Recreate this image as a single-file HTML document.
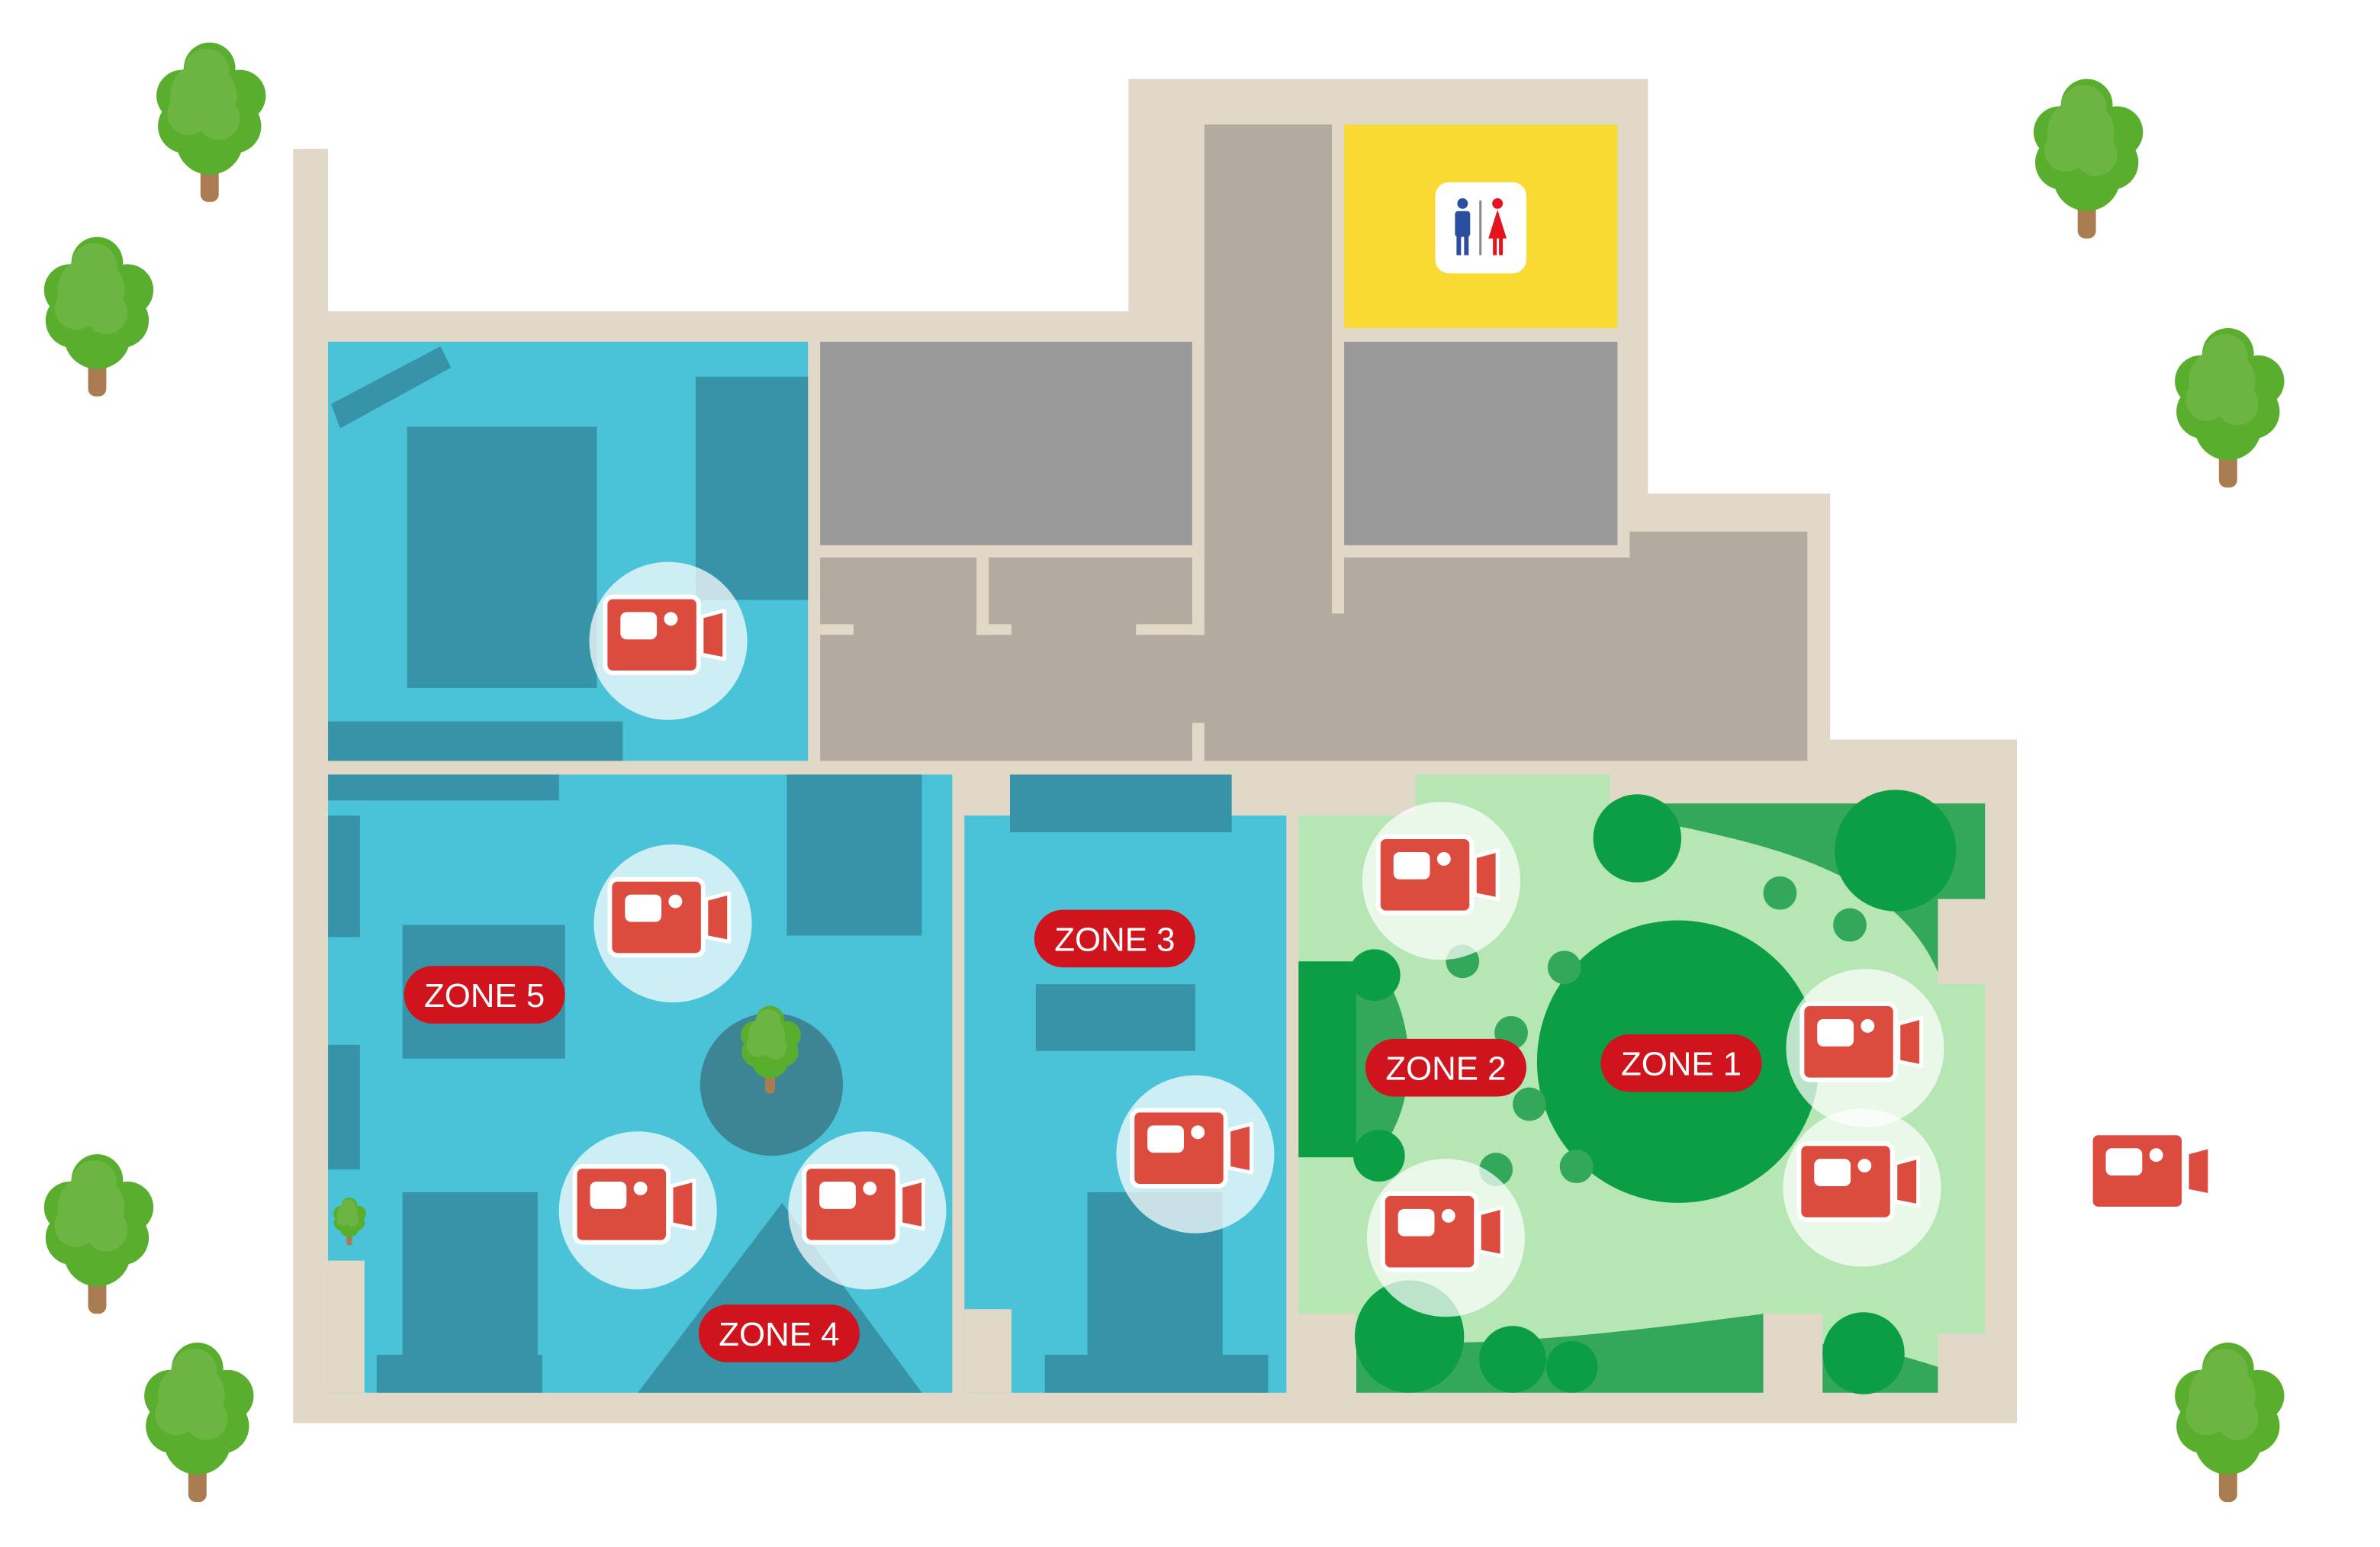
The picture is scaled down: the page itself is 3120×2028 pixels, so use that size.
<!DOCTYPE html>
<html><head><meta charset="utf-8"><style>
html,body{margin:0;padding:0;background:#fff;}
svg{display:block;}
text{font-family:"Liberation Sans",sans-serif;}
</style></head><body>
<svg width="3120" height="2028" viewBox="0 0 1560 1014" xmlns="http://www.w3.org/2000/svg">
<defs>
<g id="tree">
 <rect x="-6" y="-24" width="12" height="24" rx="5" fill="#a97c52"/>
 <g fill="#5aae2e">
  <circle cx="0" cy="-40" r="22"/><circle cx="16" cy="-50" r="18"/><circle cx="-16" cy="-50" r="18"/>
  <circle cx="20" cy="-70" r="17"/><circle cx="-18" cy="-70" r="17"/><circle cx="0" cy="-88" r="17"/><circle cx="0" cy="-62" r="24"/>
 </g>
 <g fill="#6db543">
  <circle cx="-4" cy="-70" r="22"/><circle cx="-14" cy="-58" r="14"/><circle cx="-2" cy="-86" r="15"/><circle cx="6" cy="-55" r="14"/>
 </g>
</g>
<g id="cam">
 <rect x="-41.5" y="-29" width="61.5" height="50" rx="5" fill="#dc4c3e" stroke="#fff" stroke-width="3"/>
 <polygon points="22,-16 37,-20 37,12 22,9" fill="#dc4c3e" stroke="#fff" stroke-width="2.5" stroke-linejoin="round"/>
 <rect x="-31.5" y="-19" width="24" height="18" rx="4" fill="#fff"/>
 <circle cx="1.7" cy="-14.5" r="4.5" fill="#fff"/>
</g>
<g id="halo"><circle r="52" fill="#fff" fill-opacity="0.72"/><use href="#cam"/></g>
</defs>
<g transform="scale(0.9955)">
<polygon points="193,98 216,98 216,205 743,205 743,52 1085,52 1085,325 1205,325 1205,487 1328,487 1328,937 193,937" fill="#e2d8c8"/>

<rect x="216" y="225" width="316" height="276" fill="#4ac3d8"/>
<polygon points="218,266 290,228 297,242 224,282" fill="#3794a8"/>
<rect x="268" y="281" width="125" height="172" fill="#3794a8"/>
<rect x="458" y="248" width="74" height="147" fill="#3794a8"/>
<rect x="216" y="475" width="194" height="26" fill="#3794a8"/>

<rect x="540" y="225" width="245" height="134" fill="#999999"/>
<rect x="885" y="225" width="180" height="134" fill="#999999"/>
<rect x="793" y="82" width="84" height="419" fill="#b3aba0"/>
<rect x="540" y="367" width="650" height="134" fill="#b3aba0"/>
<rect x="1073" y="350" width="117" height="20" fill="#b3aba0"/>
<rect x="785" y="225" width="8" height="193" fill="#e2d8c8"/>
<rect x="785" y="476" width="8" height="25" fill="#e2d8c8"/>
<rect x="877" y="82" width="8" height="322" fill="#e2d8c8"/>
<rect x="885" y="359" width="188" height="8" fill="#e2d8c8"/>
<rect x="540" y="359" width="245" height="8" fill="#e2d8c8"/>
<rect x="643" y="367" width="8" height="51" fill="#e2d8c8"/>
<rect x="540" y="411" width="22" height="7" fill="#e2d8c8"/>
<rect x="643" y="411" width="23" height="7" fill="#e2d8c8"/>
<rect x="748" y="411" width="45" height="7" fill="#e2d8c8"/>
<rect x="885" y="82" width="180" height="134" fill="#f8da33"/>
<rect x="945" y="120" width="60" height="60" rx="9" fill="#fff"/>
<circle cx="963" cy="134" r="3.5" fill="#2a4fa0"/>
<rect x="958" y="139" width="10" height="17" rx="2" fill="#2a4fa0"/>
<rect x="959" y="155" width="3" height="13" fill="#2a4fa0"/><rect x="964" y="155" width="3" height="13" fill="#2a4fa0"/>
<rect x="974" y="132" width="1.5" height="36" fill="#888"/>
<circle cx="986" cy="134" r="3.5" fill="#e3141d"/>
<polygon points="986,138 980,157 992,157" fill="#e3141d"/>
<rect x="983" y="155" width="2.5" height="13" fill="#e3141d"/><rect x="987" y="155" width="2.5" height="13" fill="#e3141d"/>

<rect x="216" y="510" width="411" height="407" fill="#4ac3d8"/>
<rect x="216" y="830" width="24" height="87" fill="#e2d8c8"/>
<rect x="216" y="510" width="152" height="17" fill="#3794a8"/>
<rect x="518" y="510" width="89" height="106" fill="#3794a8"/>
<rect x="216" y="537" width="21" height="80" fill="#3794a8"/>
<rect x="216" y="688" width="21" height="82" fill="#3794a8"/>
<rect x="265" y="609" width="107" height="88" fill="#3794a8"/>
<rect x="265" y="785" width="89" height="107" fill="#3794a8"/>
<rect x="248" y="892" width="109" height="25" fill="#3794a8"/>
<polygon points="420,917 515,792 607,917" fill="#3794a8"/>
<circle cx="508" cy="714" r="47" fill="#3d8595"/>
<use href="#tree" transform="translate(507,720) scale(0.55)"/>
<use href="#tree" transform="translate(230,820) scale(0.3)"/>

<rect x="635" y="537" width="212" height="380" fill="#4ac3d8"/>
<rect x="635" y="862" width="31" height="55" fill="#e2d8c8"/>
<rect x="665" y="510" width="146" height="38" fill="#3794a8"/>
<rect x="682" y="648" width="105" height="44" fill="#3794a8"/>
<rect x="716" y="785" width="89" height="107" fill="#3794a8"/>
<rect x="688" y="892" width="147" height="25" fill="#3794a8"/>

<rect x="855" y="537" width="452" height="380" fill="#b5e6b3"/>
<rect x="932" y="510" width="128" height="30" fill="#b5e6b3"/>
<path d="M1060,529 H1307 V592 H1276 V640 C1250,580 1180,560 1110,545 C1080,540 1065,535 1060,529Z" fill="#34a85a"/>
<path d="M893,917 V880 C950,890 1050,880 1161,865 V917Z" fill="#34a85a"/>
<path d="M1200,917 V885 C1230,885 1260,895 1276,900 V917Z" fill="#34a85a"/>
<path d="M893,633 H905 C935,670 935,730 905,762 H893Z" fill="#34a85a"/>
<rect x="855" y="633" width="38" height="129" fill="#0c9e45"/>
<rect x="855" y="865" width="38" height="52" fill="#e2d8c8"/>
<rect x="1161" y="865" width="39" height="52" fill="#e2d8c8"/>
<rect x="1276" y="592" width="31" height="56" fill="#e2d8c8"/>
<rect x="1276" y="878" width="31" height="39" fill="#e2d8c8"/>
<g fill="#0c9e45">
<circle cx="1105" cy="699" r="93"/>
<circle cx="1078" cy="552" r="29"/>
<ellipse cx="1248" cy="560" rx="40" ry="40"/>
<circle cx="905" cy="642" r="17"/><circle cx="908" cy="761" r="17"/>
<ellipse cx="928" cy="880" rx="36" ry="37"/>
<circle cx="996" cy="895" r="22"/><circle cx="1035" cy="900" r="17"/>
<ellipse cx="1227" cy="891" rx="27" ry="27"/>
</g>
<g fill="#34a85a">
<circle cx="1172" cy="588" r="11"/><circle cx="1218" cy="609" r="11"/>
<circle cx="963" cy="633" r="11"/><circle cx="995" cy="680" r="11"/><circle cx="1007" cy="727" r="11"/>
<circle cx="985" cy="770" r="11"/><circle cx="1038" cy="768" r="11"/><circle cx="1030" cy="637" r="11"/>
</g>

<use href="#halo" transform="translate(440,422)"/>
<use href="#halo" transform="translate(443,608)"/>
<use href="#halo" transform="translate(420,797)"/>
<use href="#halo" transform="translate(571,797)"/>
<use href="#halo" transform="translate(787,760)"/>
<use href="#halo" transform="translate(949,580)"/>
<use href="#halo" transform="translate(952,815)"/>
<use href="#halo" transform="translate(1228,690)"/>
<use href="#halo" transform="translate(1226,782)"/>
<use href="#cam" transform="translate(1418,775)"/>

<g font-size="22" fill="#fff" text-anchor="middle">
<rect x="266" y="636" width="106" height="38" rx="19" fill="#d0141d"/><text x="319" y="663">ZONE 5</text>
<rect x="681" y="599" width="106" height="38" rx="19" fill="#d0141d"/><text x="734" y="626">ZONE 3</text>
<rect x="899" y="684" width="106" height="38" rx="19" fill="#d0141d"/><text x="952" y="711">ZONE 2</text>
<rect x="1054" y="681" width="106" height="38" rx="19" fill="#d0141d"/><text x="1107" y="708">ZONE 1</text>
<rect x="460" y="859" width="106" height="38" rx="19" fill="#d0141d"/><text x="513" y="886">ZONE 4</text>
</g>

<use href="#tree" transform="translate(138,133)"/>
<use href="#tree" transform="translate(64,261)"/>
<use href="#tree" transform="translate(1374,157)"/>
<use href="#tree" transform="translate(1467,321)"/>
<use href="#tree" transform="translate(64,865)"/>
<use href="#tree" transform="translate(130,989)"/>
<use href="#tree" transform="translate(1467,989)"/>
</g>
</svg>
</body></html>
